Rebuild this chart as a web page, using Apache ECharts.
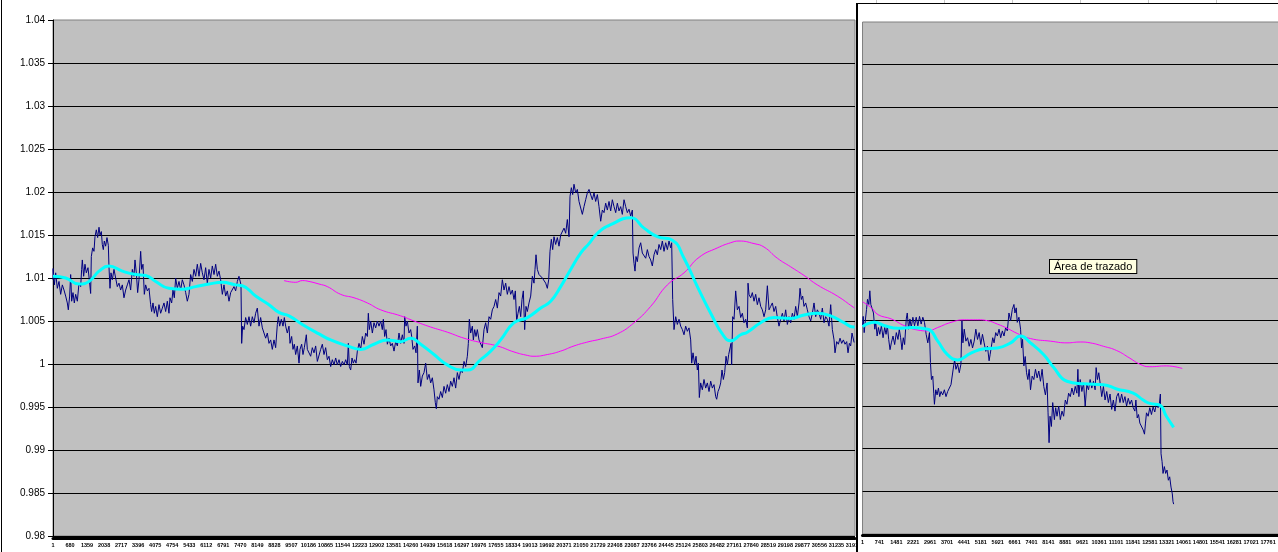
<!DOCTYPE html>
<html>
<head>
<meta charset="utf-8">
<script src="https://cdn.jsdelivr.net/npm/echarts@6/dist/echarts.min.js"></script>
<style>
html,body{margin:0;padding:0;background:#fff;overflow:hidden;width:1278px;height:552px;}
#c1{position:absolute;left:0;top:0;width:1278px;height:552px;}
#c2wrap{position:absolute;left:856px;top:3px;width:440px;height:560px;border-left:2px solid #000;border-top:1px solid #000;background:#fff;}
#c2{position:absolute;left:0;top:0;width:440px;height:560px;}
.cell{position:absolute;top:0;width:1px;height:3px;background:#c8c8c8;}
</style>
</head>
<body>
<div id="c1"></div>
<div class="cell" style="left:876px"></div>
<div class="cell" style="left:944px"></div>
<div class="cell" style="left:1012px"></div>
<div class="cell" style="left:1080px"></div>
<div class="cell" style="left:1148px"></div>
<div class="cell" style="left:1216px"></div>
<div id="c2wrap"><div id="c2"></div></div>
<script>
// ---------- tick labels ----------
const yTickLabels = ['1.04','1.035','1.03','1.025','1.02','1.015','1.01','1.005','1','0.995','0.99','0.985','0.98'];
const leftXTickLabels = ['1','680','1359','2038','2717','3396','4075','4754','5433','6112','6791','7470','8149','8828','9507','10186','10865','11544','12223','12902','13581','14260','14939','15618','16297','16976','17655','18334','19013','19692','20371','21050','21729','22408','23087','23766','24445','25124','25803','26482','27161','27840','28519','29198','29877','30556','31235','31914'];
const rightXTickLabels = ['1','741','1481','2221','2961','3701','4441','5181','5921','6661','7401','8141','8881','9621','10361','11101','11841','12581','13321','14061','14801','15541','16281','17021','17761'];
const leftXStep = 679;
const rightXStep = 740;

// ---------- left chart series: [sample, value] ----------
const leftPrice = [
[0,1.0098],[5,1.0111],[53,1.0092],[106,1.0106],[172,1.0088],[239,1.0096],[305,1.0081],[372,1.0092],[438,1.0086],[505,1.0079],[571,1.0071],[611,1.0063],[664,1.0079],[704,1.0104],[744,1.0073],[797,1.0083],[850,1.0071],[903,1.0081],[970,1.0073],[1036,1.0094],[1103,1.0090],[1142,1.0110],[1169,1.0121],[1222,1.0102],[1275,1.0116],[1328,1.0106],[1395,1.0112],[1448,1.0098],[1501,1.0082],[1528,1.0125],[1581,1.0135],[1634,1.0131],[1674,1.0148],[1727,1.0156],[1780,1.0147],[1834,1.0159],[1873,1.0150],[1927,1.0154],[1966,1.0139],[2006,1.0133],[2046,1.0143],[2099,1.0137],[2152,1.0147],[2206,1.0138],[2232,1.0113],[2272,1.0088],[2312,1.0106],[2365,1.0098],[2432,1.0110],[2498,1.0100],[2564,1.0090],[2631,1.0094],[2697,1.0086],[2764,1.0092],[2830,1.0077],[2897,1.0086],[2963,1.0092],[3030,1.0098],[3096,1.0086],[3163,1.0110],[3229,1.0102],[3269,1.0121],[3322,1.0106],[3375,1.0083],[3428,1.0098],[3495,1.0131],[3535,1.0110],[3588,1.0116],[3641,1.0081],[3694,1.0092],[3761,1.0085],[3827,1.0088],[3893,1.0069],[3933,1.0061],[3986,1.0071],[4040,1.0059],[4093,1.0067],[4159,1.0055],[4226,1.0069],[4292,1.0059],[4359,1.0065],[4425,1.0071],[4492,1.0061],[4558,1.0073],[4624,1.0059],[4664,1.0077],[4731,1.0071],[4784,1.0086],[4837,1.0077],[4890,1.0100],[4957,1.0088],[5023,1.0096],[5090,1.0086],[5156,1.0098],[5222,1.0092],[5289,1.0083],[5355,1.0073],[5422,1.0081],[5488,1.0104],[5555,1.0096],[5621,1.0110],[5688,1.0102],[5754,1.0116],[5821,1.0102],[5887,1.0117],[5953,1.0106],[6020,1.0098],[6086,1.0112],[6153,1.0094],[6219,1.0110],[6286,1.0100],[6352,1.0114],[6419,1.0104],[6485,1.0116],[6551,1.0102],[6618,1.0108],[6684,1.0098],[6751,1.0081],[6817,1.0092],[6884,1.0079],[6950,1.0085],[7017,1.0073],[7083,1.0083],[7150,1.0081],[7216,1.0090],[7282,1.0085],[7349,1.0096],[7415,1.0102],[7455,1.0104],[7495,1.0092],[7522,1.0024],[7561,1.0044],[7615,1.0040],[7681,1.0054],[7748,1.0046],[7814,1.0055],[7880,1.0044],[7947,1.0055],[8013,1.0048],[8080,1.0059],[8146,1.0065],[8213,1.0044],[8279,1.0054],[8346,1.0042],[8412,1.0044],[8479,1.0030],[8545,1.0036],[8611,1.0024],[8678,1.0028],[8744,1.0017],[8811,1.0028],[8877,1.0019],[8944,1.0046],[8984,1.0055],[9037,1.0044],[9103,1.0052],[9170,1.0044],[9223,1.0054],[9276,1.0044],[9342,1.0036],[9409,1.0044],[9449,1.0024],[9515,1.0032],[9568,1.0017],[9621,1.0023],[9675,1.0011],[9741,1.0021],[9808,1.0001],[9848,1.0017],[9914,1.0023],[9967,1.0011],[10020,1.0019],[10100,1.0034],[10140,1.0017],[10206,1.0015],[10273,1.0009],[10339,1.0019],[10406,1.0013],[10472,1.0021],[10539,1.0003],[10605,1.0001],
[10672,1.0017],[10738,1.0023],[10805,1.0011],[10871,1.0019],[10938,1.0005],[11004,1.0009],[11071,0.9997],[11137,1.0005],[11203,0.9999],[11270,1.0007],[11336,0.9999],[11403,1.0005],[11469,0.9997],[11536,1.0003],[11602,0.9999],[11669,1.0005],[11735,0.9999],[11775,1.0024],[11815,0.9997],[11868,0.9993],[11921,1.0007],[11974,1.0001],[12027,1.0005],[12081,1.0001],[12134,1.0015],[12200,1.0024],[12267,1.0017],[12333,1.0032],[12400,1.0023],[12466,1.0036],[12532,1.0032],[12572,1.0059],[12612,1.0040],[12665,1.0050],[12732,1.0036],[12798,1.0048],[12865,1.0042],[12931,1.0050],[12998,1.0044],[13064,1.0050],[13130,1.0040],[13170,1.0052],[13223,1.0032],[13277,1.0040],[13330,1.0023],[13396,1.0030],[13463,1.0021],[13529,1.0024],[13596,1.0015],[13662,1.0026],[13729,1.0021],[13795,1.0036],[13861,1.0024],[13928,1.0034],[13994,1.0024],[14021,1.0055],[14074,1.0044],[14127,1.0050],[14194,1.0036],[14260,1.0040],[14300,1.0032],[14353,1.0017],[14420,1.0021],[14473,1.0013],[14526,1.0044],[14552,0.9978],[14606,0.9993],[14659,0.9974],[14725,0.9986],[14792,0.9990],[14858,1.0001],[14925,0.9982],[14991,0.9988],[15058,0.9978],[15124,0.9984],[15190,0.9970],[15243,0.9955],[15283,0.9948],[15323,0.9962],[15390,0.9959],[15456,0.9968],[15523,0.9961],[15589,0.9974],[15656,0.9966],[15722,0.9976],[15788,0.9968],[15855,0.9980],[15921,0.9974],[15988,0.9984],[16054,0.9972],[16121,0.9990],[16187,0.9982],[16254,0.9993],[16320,0.9990],[16387,1.0003],[16453,0.9997],[16519,1.0009],[16559,1.0024],[16599,1.0052],[16652,1.0036],[16719,1.0044],[16759,1.0028],[16812,1.0040],[16865,1.0032],[16918,1.0040],[16985,1.0028],[17051,1.0026],[17117,1.0019],[17184,1.0040],[17250,1.0048],[17317,1.0036],[17383,1.0055],[17450,1.0052],[17516,1.0063],[17583,1.0067],[17649,1.0075],[17716,1.0065],[17782,1.0083],[17848,1.0079],[17915,1.0098],[17981,1.0086],[18048,1.0094],[18114,1.0081],[18181,1.0090],[18247,1.0081],[18314,1.0086],[18380,1.0075],[18433,1.0085],[18486,1.0050],[18539,1.0059],[18593,1.0067],[18646,1.0055],[18699,1.0075],[18752,1.0085],[18805,1.0040],[18858,1.0067],[18912,1.0061],[18978,1.0071],[19045,1.0079],[19111,1.0102],[19177,1.0094],[19217,1.0110],[19257,1.0127],[19310,1.0110],[19377,1.0104],[19443,1.0106],[19510,1.0100],[19576,1.0102],[19643,1.0094],[19709,1.0088],[19762,1.0098],[19815,1.0131],[19868,1.0145],[19922,1.0133],[19975,1.0148],[20041,1.0139],[20108,1.0147],[20174,1.0137],[20241,1.0150],[20307,1.0148],[20374,1.0158],[20440,1.0152],[20506,1.0168],[20573,1.0148],[20613,1.0195],[20666,1.0205],[20719,1.0197],[20772,1.0209],[20839,1.0199],[20905,1.0203],[20972,1.0189],[21038,1.0187],[21105,1.0174],[21171,1.0183],[21237,1.0191],[21304,1.0199],[21370,1.0203],
[21437,1.0201],[21503,1.0191],[21570,1.0199],[21636,1.0189],[21703,1.0197],[21769,1.0183],[21836,1.0166],[21902,1.0179],[21968,1.0176],[22035,1.0187],[22101,1.0179],[22168,1.0189],[22234,1.0178],[22301,1.0191],[22367,1.0183],[22434,1.0176],[22500,1.0187],[22566,1.0178],[22633,1.0183],[22699,1.0174],[22766,1.0191],[22832,1.0183],[22899,1.0176],[22965,1.0180],[23032,1.0172],[23098,1.0179],[23125,1.0129],[23165,1.0117],[23204,1.0108],[23244,1.0125],[23297,1.0119],[23364,1.0135],[23430,1.0141],[23497,1.0129],[23563,1.0131],[23630,1.0123],[23696,1.0133],[23763,1.0125],[23829,1.0121],[23895,1.0114],[23962,1.0127],[24028,1.0133],[24095,1.0127],[24161,1.0139],[24228,1.0133],[24294,1.0143],[24361,1.0131],[24427,1.0141],[24494,1.0133],[24560,1.0143],[24626,1.0135],[24666,1.0141],[24706,1.0075],[24759,1.0040],[24826,1.0055],[24892,1.0046],[24959,1.0052],[25025,1.0044],[25092,1.0040],[25158,1.0034],[25224,1.0044],[25291,1.0038],[25357,1.0042],[25424,1.0028],[25464,1.0001],[25517,1.0013],[25583,0.9999],[25636,1.0009],[25690,0.9993],[25730,1.0001],[25769,0.9961],[25822,0.9978],[25889,0.9970],[25955,0.9982],[26022,0.9972],[26088,0.9978],[26155,0.9968],[26221,0.9980],[26288,0.9972],[26354,0.9976],[26421,0.9962],[26460,0.9959],[26514,0.9968],[26567,0.9972],[26620,0.9978],[26673,0.9993],[26726,0.9982],[26779,0.9990],[26833,1.0009],[26886,0.9999],[26939,1.0011],[26992,1.0009],[27032,1.0024],[27058,0.9999],[27098,1.0055],[27152,1.0052],[27218,1.0085],[27284,1.0063],[27351,1.0067],[27417,1.0054],[27484,1.0059],[27550,1.0048],[27617,1.0052],[27683,1.0042],[27710,1.0094],[27750,1.0081],[27816,1.0077],[27882,1.0083],[27949,1.0073],[28015,1.0081],[28082,1.0069],[28148,1.0077],[28215,1.0067],[28281,1.0063],[28348,1.0055],[28414,1.0063],[28481,1.0091],[28547,1.0063],[28613,1.0067],[28680,1.0071],[28746,1.0061],[28813,1.0067],[28879,1.0054],[28946,1.0044],[29012,1.0052],[29079,1.0059],[29145,1.0050],[29211,1.0063],[29278,1.0046],[29344,1.0055],[29411,1.0048],[29477,1.0059],[29544,1.0052],[29610,1.0067],[29677,1.0055],[29743,1.0071],[29783,1.0088],[29836,1.0075],[29889,1.0079],[29942,1.0067],[30009,1.0071],[30075,1.0063],[30142,1.0055],[30208,1.0050],[30275,1.0059],[30341,1.0071],[30408,1.0055],[30474,1.0063],[30540,1.0059],[30607,1.0052],[30673,1.0065],[30740,1.0048],[30806,1.0055],[30873,1.0052],[30939,1.0044],[31006,1.0069],[31072,1.0040],[31139,1.0028],[31178,1.0013],[31245,1.0026],[31311,1.0023],[31378,1.0030],[31444,1.0024],[31511,1.0028],[31577,1.0023],[31644,1.0026],[31697,1.0013],[31750,1.0024],[31803,1.0021],[31856,1.0036],[31909,1.0038],[31940,1.0025]
];
const leftSmoothFast = [
[0,1.0102],[505,1.0100],[1036,1.0093],[1435,1.0096],[1834,1.0108],[2232,1.0114],[2764,1.0108],[3295,1.0104],[3694,1.0103],[4093,1.0096],[4624,1.0088],[5156,1.0087],[5688,1.0090],[6219,1.0093],[6751,1.0095],[7282,1.0092],[7548,1.0091],[8080,1.0079],[8611,1.0069],[9010,1.0060],[9409,1.0056],[9940,1.0046],[10605,1.0035],
[11071,1.0028],[11735,1.0021],[12267,1.0017],[12798,1.0023],[13330,1.0028],[13861,1.0026],[14260,1.0030],[14659,1.0023],[15190,1.0011],[15722,0.9999],[16254,0.9993],[16519,0.9993],[17051,1.0005],[17450,1.0015],[17848,1.0028],[18380,1.0048],[18912,1.0054],[19443,1.0065],[19842,1.0073],[20241,1.0090],[20639,1.0110],[21038,1.0129],[21370,1.0140],
[21703,1.0152],[22234,1.0162],[23032,1.0170],[23563,1.0158],[24095,1.0148],[24693,1.0144],[25158,1.0123],[25690,1.0090],[26221,1.0059],[26753,1.0032],[27019,1.0027],[27417,1.0034],[27683,1.0037],[28215,1.0048],[28746,1.0054],[29411,1.0053],[29942,1.0057],[30474,1.0059],[31006,1.0056],[31537,1.0048],[31909,1.0043],[31960,1.0043]
];
const leftSmoothSlow = [
[9210,1.0097],[9675,1.0095],[9940,1.0097],[10206,1.0096],[10605,1.0093],[10938,1.0090],[11469,1.0081],[12001,1.0077],[12532,1.0071],[13064,1.0063],[13861,1.0056],[14393,1.0050],[15058,1.0043],[15722,1.0037],[16387,1.0030],[17051,1.0025],[17716,1.0021],[18380,1.0014],[18912,1.0010],[19177,1.0009],[19709,1.0011],[20241,1.0015],[20772,1.0021],[21370,1.0026],
[21836,1.0029],[22500,1.0035],[23165,1.0048],[23829,1.0067],[24494,1.0092],[25158,1.0106],[25756,1.0124],[26487,1.0135],[27019,1.0141],[27351,1.0143],[27949,1.0140],[28348,1.0136],[28879,1.0123],[29411,1.0113],[29942,1.0103],[30474,1.0092],[31271,1.0079],[31909,1.0066],[31960,1.0065]
];

// ---------- right chart series: [sample, value] ----------
const rightPrice = [
[0,1.0044],[29,1.0055],[72,1.0036],[130,1.0052],[174,1.0063],[217,1.0075],[276,1.0069],[319,1.0085],[363,1.0069],[421,1.0071],[479,1.0059],[537,1.0040],[580,1.0048],[638,1.0032],[696,1.0042],[754,1.0034],[827,1.0044],[899,1.0030],[972,1.0042],[1030,1.0034],[1088,1.0044],[1146,1.0028],[1204,1.0016],[1262,1.0024],[1335,1.0032],[1407,1.0022],[1480,1.0036],[1552,1.0028],[1610,1.0040],[1668,1.0030],[1727,1.0016],[1785,1.0030],[1843,1.0022],[1915,1.0052],[1959,1.0059],[2017,1.0040],[2075,1.0052],[2133,1.0042],[2205,1.0054],[2278,1.0044],[2350,1.0054],[2423,1.0044],[2496,1.0055],[2568,1.0046],[2641,1.0054],[2713,1.0048],[2786,1.0034],[2858,1.0024],[2931,1.0036],[2974,1.0001],[3018,0.9981],[3076,0.9985],[3119,0.9965],[3149,0.9952],[3207,0.9969],[3265,0.9963],[3323,0.9971],[3381,0.9961],[3439,0.9967],[3511,0.9963],[3584,0.9969],[3656,0.9961],[3729,0.9967],[3801,0.9969],[3874,0.9975],[3947,0.9977],[3990,0.9997],[4034,1.0004],[4092,0.9993],[4164,0.9999],[4237,0.9989],[4309,0.9999],[4353,1.0050],[4396,1.0024],[4454,1.0040],[4527,1.0026],[4600,1.0030],[4672,1.0020],[4745,1.0028],[4817,1.0018],[4890,1.0026],[4962,1.0040],[5035,1.0028],[5107,1.0036],[5180,1.0022],[5252,1.0034],[5325,1.0024],[5398,1.0014],[5470,1.0020],[5543,1.0003],[5586,1.0010],[5644,1.0020],[5702,1.0030],[5760,1.0024],[5833,1.0036],[5905,1.0032],[5978,1.0040],[6051,1.0030],[6123,1.0038],[6196,1.0032],[6268,1.0042],[6341,1.0038],[6413,1.0059],[6486,1.0050],[6558,1.0063],[6631,1.0069],[6674,1.0059],[6732,1.0065],[6776,1.0048],[6849,1.0054],[6921,1.0040],[6965,1.0018],[7008,1.0028],[7066,0.9997],[7124,1.0008],[7182,0.9989],[7240,0.9981],[7298,0.9993],[7356,0.9969],[7429,0.9985],[7502,0.9981],[7574,0.9993],[7647,0.9983],[7719,0.9991],[7792,0.9979],[7864,0.9993],[7937,0.9973],[8009,0.9963],[8082,0.9977],[8125,0.9942],[8169,0.9907],[8212,0.9938],[8271,0.9926],[8329,0.9954],[8401,0.9934],[8459,0.9948],[8517,0.9938],[8590,0.9950],[8662,0.9934],[8735,0.9944],[8807,0.9938],[8880,0.9957],[8953,0.9952],[9025,0.9965],[9098,0.9961],[9170,0.9971],[9243,0.9963],[9315,0.9973],[9388,0.9965],[9431,0.9993],[9475,0.9961],[9533,0.9981],[9605,0.9967],[9678,0.9977],[9751,0.9950],[9823,0.9975],[9896,0.9969],[9968,0.9981],[10041,0.9971],[10113,0.9979],[10186,0.9969],[10230,0.9995],[10288,0.9981],[10346,0.9989],[10404,0.9977],[10476,0.9961],[10549,0.9973],[10621,0.9957],[10694,0.9967],[10766,0.9954],[10839,0.9964],[10911,0.9946],[10984,0.9957],[11056,0.9944],[11129,0.9961],[11202,0.9965],[11274,0.9954],[11347,0.9964],[11419,0.9954],[11492,0.9961],[11564,0.9950],[11637,0.9959],[11709,0.9952],[11782,0.9957],[11855,0.9948],[11927,0.9944],[11971,0.9957],[12029,0.9936],[12087,0.9940],[12145,0.9930],[12218,0.9932],[12290,0.9922],[12348,0.9917],[12392,0.9930],[12435,0.9942],[12508,0.9938],[12580,0.9948],[12653,0.9940],[12725,0.9949],[12798,0.9943],[12870,0.9953],[12943,0.9948],[13001,0.9953],[13044,0.9964],[13073,0.9894],[13117,0.9885],[13160,0.9871],[13218,0.9879],[13276,0.9871],[13334,0.9875],[13393,0.9863],[13451,0.9867],[13509,0.9855],[13567,0.9847],[13596,0.9838],[13625,0.9835]
];
const rightSmoothFast = [
[0,1.0043],[537,1.0048],[972,1.0044],[1552,1.0041],[2133,1.0042],[2858,1.0040],[3294,1.0026],[3729,1.0010],[4164,1.0004],[4745,1.0012],[5325,1.0017],[5905,1.0018],[6486,1.0024],[6921,1.0032],[7356,1.0024],[7937,1.0010],[8372,0.9995],[8953,0.9979],[9678,0.9976],[10549,0.9975],[11129,0.9970],[11855,0.9965],[12290,0.9957],[12580,0.9953],[13015,0.9951],[13306,0.9938],[13625,0.9925]
];
const rightSmoothSlow = [
[0,1.0072],[392,1.0065],[682,1.0057],[1262,1.0052],[1843,1.0044],[2423,1.0039],[2858,1.0038],[3294,1.0042],[3874,1.0048],[4454,1.0051],[5035,1.0051],[5470,1.0050],[5905,1.0046],[6341,1.0041],[6776,1.0035],[7356,1.0029],[8227,1.0026],[8953,1.0024],[9533,1.0025],[9968,1.0024],[10549,1.0020],[11129,1.0015],[11709,1.0006],[12145,0.9999],[12580,0.9996],[13306,0.9997],[14002,0.9994]
];

const tooltipText = 'Área de trazado';

// ---------- helpers ----------
function yLabel(v){
  const i = Math.round((1.04 - v) / 0.005);
  return yTickLabels[i] !== undefined ? yTickLabels[i] : '';
}
function xLabelFn(labels, step){
  return function(v){
    if (Math.abs(v / step - Math.round(v / step)) > 1e-6) return '';
    const i = Math.round(v / step);
    return labels[i] !== undefined ? labels[i] : '';
  };
}
function yAxisCfg(showLabels){
  return {
    type:'value', min:0.98, max:1.04, interval:0.005,
    axisLine:{show:showLabels, lineStyle:{color:'#000', width:1}},
    axisTick:{show:showLabels, length:5, lineStyle:{color:'#000'}},
    axisLabel:{show:showLabels, formatter:yLabel, color:'#000', fontFamily:'Liberation Sans, Arial, sans-serif', fontSize:10, margin:8},
    splitLine:{show:true, showMaxLine:false, lineStyle:{color:'#000', width:1}}
  };
}
function xAxisCfg(max, step, labels, offset){
  return {
    type:'value', min:0, max:max, interval:step, offset:offset,
    axisLine:{show:true, onZero:false, lineStyle:{color:'#000', width:3}},
    axisTick:{show:false},
    splitLine:{show:false},
    axisLabel:{show:true, formatter:xLabelFn(labels, step), showMaxLabel:false, color:'#000',
      fontFamily:'Liberation Sans, Arial, sans-serif', fontWeight:'bold', fontSize:5.5, margin:4, hideOverlap:false}
  };
}
function lineSeries(data, color, width, smooth, z){
  return {type:'line', data:data, showSymbol:false, symbol:'none', smooth:smooth, z:z,
    lineStyle:{color:color, width:width}, animation:false, silent:true, clip:true};
}

// ---------- left chart ----------
const c1 = echarts.init(document.getElementById('c1'), null, {renderer:'canvas'});
c1.setOption({
  animation:false,
  backgroundColor:'#fff',
  grid:{show:true, left:53, top:20, width:802, height:516, backgroundColor:'#C0C0C0', borderColor:'#808080', borderWidth:1},
  xAxis:xAxisCfg(31975, leftXStep, leftXTickLabels, 2),
  yAxis:yAxisCfg(true),
  series:[
    lineSeries(leftPrice, '#000080', 1, false, 2),
    lineSeries(leftSmoothSlow, '#FF00FF', 1, true, 3),
    lineSeries(leftSmoothFast, '#00FFFF', 3, true, 4)
  ],
  graphic:[{type:'line', shape:{x1:1.5, y1:0, x2:1.5, y2:552}, style:{stroke:'#000', lineWidth:1}}]
});

// ---------- right chart ----------
const c2 = echarts.init(document.getElementById('c2'), null, {renderer:'canvas'});
c2.setOption({
  animation:false,
  backgroundColor:'#fff',
  grid:{show:true, left:2, top:18, width:422, height:512, backgroundColor:'#C0C0C0', borderColor:'#808080', borderWidth:1},
  xAxis:xAxisCfg(18370, rightXStep, rightXTickLabels, 1),
  yAxis:yAxisCfg(false),
  series:[
    lineSeries(rightPrice, '#000080', 1, false, 2),
    lineSeries(rightSmoothSlow, '#FF00FF', 1, true, 3),
    lineSeries(rightSmoothFast, '#00FFFF', 3, true, 4)
  ],
  graphic:[{type:'text', left:191, top:255, z:100,
    style:{text:tooltipText, fill:'#000', font:'11px "Liberation Sans", Arial, sans-serif',
      backgroundColor:'#FFFFE1', borderColor:'#000', borderWidth:1, padding:[1,4,1,4]}}]
});
</script>
</body>
</html>
